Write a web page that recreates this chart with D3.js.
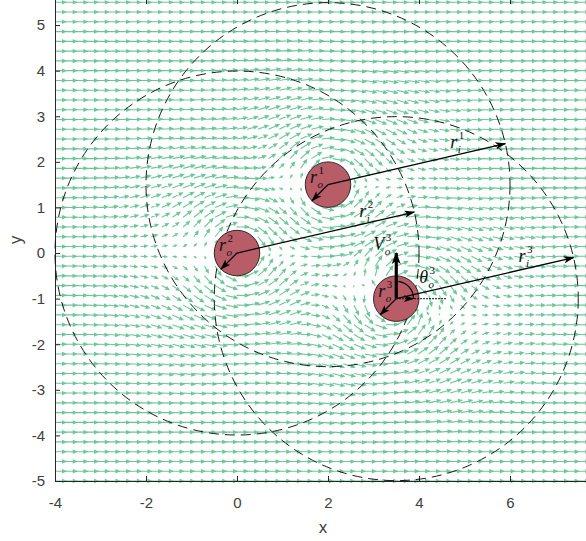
<!DOCTYPE html>
<meta charset="utf-8">
<head>
    <title>Obstacle flow field</title>
    <script src="https://cdn.jsdelivr.net/npm/d3@7"></script>
</head>

<style>
    body { margin: 0; background: #fff; }
    svg { display: block; font-family: "Noto Sans", "Open Sans", sans-serif; }
    .axis text { fill: #404040; font-size: 15px; }
    .axis path, .axis line { stroke: #262626; }
    .arrow { fill: #45b97a; stroke: #45b97a; stroke-width: 1.1; opacity: 0.78; }
    .infl { fill: none; stroke: #1a1a1a; stroke-width: 1; stroke-dasharray: 10 6; }
    .obst { fill: #b85c68; stroke: #2a2a2a; stroke-width: 1; }
    .ann { stroke: #000; stroke-width: 1.3; fill: none; }
    .tex { font-family: "Liberation Serif", "DejaVu Serif", serif; fill: #111; }
</style>
<svg></svg>

<script>
    var vWidth = 586;
    var vHeight = 541;

    // obstacles: centre, body radius, influence radius, velocity
    var obsX = [2, 0, 3.5];
    var obsY = [1.5, 0, -1];
    var obsRo = [0.5, 0.5, 0.5];
    var obsRi = [4, 4, 4];
    var obsVx = [0, 0, 0];
    var obsVy = [0, 0, 1];

    // undisturbed flow
    var flowU = 1;
    var flowV = 0;

    // quiver grid (start, stop, count)
    var gridX = [-4, 7.5, 50];
    var gridY = [-5, 5.5, 50];

    var xTicks = [-4, -2, 0, 2, 4, 6];
    var yTicks = [-5, -4, -3, -2, -1, 0, 1, 2, 3, 4, 5];

    // annotation directions (degrees)
    var roAngle = 225;
    var riAngle = 13;

    var svg = d3.select('svg').attr('width', vWidth).attr('height', vHeight);
    var x = d3.scaleLinear().domain([-4, 7.67]).range([55, 586]);
    var y = d3.scaleLinear().domain([-5, 5.55]).range([481, 0]);
    var pxPerUnit = x(1) - x(0);

    // flow modulated by one obstacle
    function modulate(k, px, py, d) {
        var nx = (px - obsX[k]) / d, ny = (py - obsY[k]) / d;
        var tx = -ny, ty = nx;
        var s = (d - obsRo[k]) / (obsRi[k] - obsRo[k]);
        var w = Math.pow(1 - s, 1.5);
        var ln = 1 - w, lt = 1 + w;
        var vx = obsVx[k] * w, vy = obsVy[k] * w;
        var rx = flowU - vx, ry = flowV - vy;
        var rn = rx * nx + ry * ny, rt = rx * tx + ry * ty;
        return [ln * rn * nx + lt * rt * tx + vx, ln * rn * ny + lt * rt * ty + vy, s];
    }

    // blend of the obstacles whose influence covers the point, nearest weighs most
    function flowAt(px, py) {
        var u = 0, v = 0, wsum = 0;
        for (var k = 0; k < obsX.length; k++) {
            var d = Math.hypot(px - obsX[k], py - obsY[k]);
            if (d < obsRo[k]) return null;
            if (d >= obsRi[k]) continue;
            var m = modulate(k, px, py, d);
            var wk = 1 / (Math.pow(m[2], 4) + 1e-6);
            u += wk * m[0]; v += wk * m[1]; wsum += wk;
        }
        if (wsum === 0) return [flowU, flowV];
        return [u / wsum, v / wsum];
    }

    var gxs = d3.range(gridX[2]).map(function (i) { return gridX[0] + i * (gridX[1] - gridX[0]) / (gridX[2] - 1); });
    var gys = d3.range(gridY[2]).map(function (i) { return gridY[0] + i * (gridY[1] - gridY[0]) / (gridY[2] - 1); });
    var vectors = [];
    gxs.forEach(function (gx) {
        gys.forEach(function (gy) {
            var f = flowAt(gx, gy);
            if (f) vectors.push({x: gx, y: gy, u: f[0], v: f[1]});
        });
    });

    // quiver
    var K = 10.7;
    svg.append('g').selectAll('path').data(vectors).enter().append('path')
        .attr('class', 'arrow')
        .attr('d', function (d) {
            var m = Math.hypot(d.u, d.v);
            if (m < 0.05) return null;
            var x0 = x(d.x), y0 = y(d.y);
            var len = Math.min(m, 1.1) * K;
            var ux = d.u / m, uy = -d.v / m;
            var x1 = x0 + ux * len, y1 = y0 + uy * len;
            var h = Math.min(3.4, len * 0.4), c = Math.cos(0.42), sn = Math.sin(0.42);
            var ax = x1 - h * (ux * c - uy * sn), ay = y1 - h * (uy * c + ux * sn);
            var bx = x1 - h * (ux * c + uy * sn), by = y1 - h * (uy * c - ux * sn);
            return 'M' + x0 + ',' + y0 + 'L' + x1 + ',' + y1 + 'M' + ax + ',' + ay + 'L' + x1 + ',' + y1 + 'L' + bx + ',' + by + 'Z';
        });

    // axes
    svg.append('g').attr('class', 'axis').attr('transform', 'translate(0,481)')
        .call(d3.axisBottom(x).tickValues(xTicks).tickFormat(function (d) { return String(d); })
            .tickSizeInner(-5).tickSizeOuter(0).tickPadding(16));
    svg.append('g').attr('class', 'axis').attr('transform', 'translate(55,0)')
        .call(d3.axisLeft(y).tickValues(yTicks).tickFormat(function (d) { return String(d); })
            .tickSizeInner(-5).tickSizeOuter(0).tickPadding(10));
    svg.append('g').attr('class', 'axis').attr('transform', 'translate(0,-1)')
        .call(d3.axisTop(x).tickValues(xTicks).tickFormat('').tickSizeInner(-5).tickSizeOuter(0))
        .select('.domain').remove();
    svg.append('text').attr('x', 323).attr('y', 533).attr('text-anchor', 'middle')
        .style('font-size', '16px').style('fill', '#404040').text('x');
    svg.append('text').attr('transform', 'translate(21,240) rotate(-90)').attr('text-anchor', 'middle')
        .style('font-size', '16px').style('fill', '#404040').text('y');

    // influence circles
    svg.append('g').selectAll('circle').data(obsX).enter().append('circle')
        .attr('class', 'infl')
        .attr('cx', function (d) { return x(d); })
        .attr('cy', function (d, i) { return y(obsY[i]); })
        .attr('r', function (d, i) { return obsRi[i] * pxPerUnit; });

    // obstacles
    svg.append('g').selectAll('circle').data(obsX).enter().append('circle')
        .attr('class', 'obst')
        .attr('cx', function (d) { return x(d); })
        .attr('cy', function (d, i) { return y(obsY[i]); })
        .attr('r', function (d, i) { return obsRo[i] * pxPerUnit; });

    // arrow heads
    var defs = svg.append('defs');
    defs.append('marker').attr('id', 'head').attr('markerUnits', 'userSpaceOnUse')
        .attr('viewBox', '0 -5 12 10').attr('refX', 11).attr('refY', 0)
        .attr('markerWidth', 11).attr('markerHeight', 9).attr('orient', 'auto')
        .append('path').attr('d', 'M0,-4L12,0L0,4L3,0Z').attr('fill', '#000');
    defs.append('marker').attr('id', 'headBig').attr('markerUnits', 'userSpaceOnUse')
        .attr('viewBox', '0 -5 12 10').attr('refX', 11).attr('refY', 0)
        .attr('markerWidth', 12).attr('markerHeight', 10).attr('orient', 'auto')
        .append('path').attr('d', 'M0,-4.5L12,0L0,4.5L3,0Z').attr('fill', '#000');

    // math-style label: italic symbol with stacked superscript and subscript
    function texLabel(px, py, main, sup, sub) {
        var t = svg.append('text').attr('class', 'tex').attr('x', px).attr('y', py);
        var m = t.append('tspan').style('font-size', '18px').style('font-style', 'italic').text(main);
        var w = m.node().getComputedTextLength() + 1.5;
        t.append('tspan').attr('x', px + w).attr('y', py - 9).style('font-size', '11px').text(sup);
        t.append('tspan').attr('x', px + w - 1).attr('y', py + 5)
            .style('font-size', '11px').style('font-style', 'italic').text(sub);
    }

    var ann = svg.append('g');
    obsX.forEach(function (cx, i) {
        var cy = obsY[i];
        var a1 = roAngle * Math.PI / 180, a2 = riAngle * Math.PI / 180;
        ann.append('line').attr('class', 'ann')
            .attr('x1', x(cx)).attr('y1', y(cy))
            .attr('x2', x(cx + obsRo[i] * Math.cos(a1))).attr('y2', y(cy + obsRo[i] * Math.sin(a1)))
            .attr('marker-end', 'url(#head)');
        var tipX = x(cx + obsRi[i] * Math.cos(a2)), tipY = y(cy + obsRi[i] * Math.sin(a2));
        ann.append('line').attr('class', 'ann')
            .attr('x1', x(cx)).attr('y1', y(cy)).attr('x2', tipX).attr('y2', tipY)
            .attr('marker-end', 'url(#head)');
        texLabel(x(cx) - 18, y(cy) - 2, 'r', String(i + 1), 'o');
        var lx = tipX - 55;
        texLabel(lx, tipY + 55 * Math.tan(a2) - 8, 'r', String(i + 1), 'i');
    });

    // moving obstacle: velocity arrow and heading angle
    var mk = 2;
    var mcx = x(obsX[mk]), mcy = y(obsY[mk]);
    ann.append('line').attr('x1', mcx).attr('y1', mcy)
        .attr('x2', x(obsX[mk] + obsVx[mk])).attr('y2', y(obsY[mk] + obsVy[mk]))
        .attr('stroke', '#000').attr('stroke-width', 3.2).attr('marker-end', 'url(#headBig)');
    ann.append('line').attr('x1', mcx).attr('y1', mcy)
        .attr('x2', x(obsX[mk] + 1.1)).attr('y2', mcy)
        .attr('stroke', '#000').attr('stroke-width', 1.2).attr('stroke-dasharray', '1.5 1.5');
    var ar = 0.38 * pxPerUnit;
    ann.append('path').attr('class', 'ann')
        .attr('d', d3.arc()({innerRadius: ar, outerRadius: ar, startAngle: Math.PI / 2, endAngle: 0.12}))
        .attr('transform', 'translate(' + mcx + ',' + mcy + ')')
        .attr('marker-end', 'url(#head)');
    texLabel(mcx - 23, mcy - 49, 'V', '3', 'o');
    texLabel(mcx + 23, mcy - 16, 'θ', '3', 'o');
</script>
